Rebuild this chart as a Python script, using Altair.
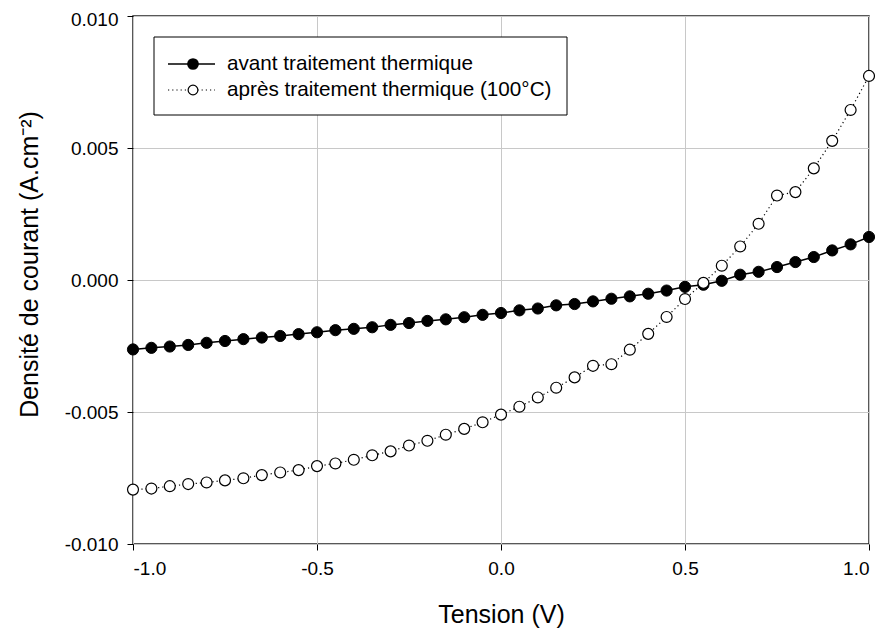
import altair as alt
import pandas as pd

# ---- data ----
tension = [-1.00, -0.95, -0.90, -0.85, -0.80, -0.75, -0.70, -0.65, -0.60, -0.55,
           -0.50, -0.45, -0.40, -0.35, -0.30, -0.25, -0.20, -0.15, -0.10, -0.05,
           0.00, 0.05, 0.10, 0.15, 0.20, 0.25, 0.30, 0.35, 0.40, 0.45,
           0.50, 0.55, 0.60, 0.65, 0.70, 0.75, 0.80, 0.85, 0.90, 0.95, 1.00]

avant = [-0.00263, -0.00257, -0.00252, -0.00246, -0.00238, -0.00231, -0.00224, -0.00218,
         -0.00212, -0.00205, -0.00198, -0.00190, -0.00185, -0.00179, -0.00170, -0.00163,
         -0.00155, -0.00149, -0.00141, -0.00132, -0.00125, -0.00115, -0.00108, -0.00096,
         -0.00091, -0.00081, -0.00071, -0.00062, -0.00052, -0.00040, -0.00026, -0.00018,
         -0.00003, 0.00020, 0.00031, 0.00049, 0.00068, 0.00087, 0.00112, 0.00135, 0.00163]

apres = [-0.00794, -0.00790, -0.00781, -0.00773, -0.00767, -0.00759, -0.00751, -0.00739,
         -0.00729, -0.00720, -0.00705, -0.00695, -0.00681, -0.00664, -0.00649, -0.00627,
         -0.00609, -0.00586, -0.00564, -0.00539, -0.00510, -0.00480, -0.00445, -0.00408,
         -0.00369, -0.00325, -0.00319, -0.00264, -0.00204, -0.00140, -0.00072, -0.00011,
         0.00054, 0.00127, 0.00213, 0.00320, 0.00333, 0.00423, 0.00527, 0.00644, 0.00773]

series_names = ["avant traitement thermique", "après traitement thermique (100°C)"]
x_ticks = [-1.0, -0.5, 0.0, 0.5, 1.0]
y_ticks = [-0.010, -0.005, 0.000, 0.005, 0.010]
x_title = "Tension (V)"
y_title = "Densité de courant (A.cm⁻²)"

FONT = "Liberation Sans"

df_av = pd.DataFrame({"V": tension, "J": avant, "serie": series_names[0]})
df_ap = pd.DataFrame({"V": tension, "J": apres, "serie": series_names[1]})

x_enc = alt.X("V:Q",
              scale=alt.Scale(domain=[-1, 1], nice=False, zero=False),
              axis=alt.Axis(values=x_ticks, title=x_title,
                            labelExpr="replace(format(datum.value, '.1f'), '\u2212', '-')",
                            titleY=78, titleBaseline="alphabetic"))
y_enc = alt.Y("J:Q",
              scale=alt.Scale(domain=[-0.01, 0.01], nice=False, zero=False),
              axis=alt.Axis(values=y_ticks, title=y_title,
                            labelExpr="replace(format(datum.value, '.3f'), '\u2212', '-')",
                            labelOffset={"condition": {"test": "datum.value > 0.009", "value": 3},
                                         "value": 0},
                            titleX=-96, titleY=248, titleBaseline="alphabetic"))

line_av = alt.Chart(df_av).mark_line(color="black", strokeWidth=1.5).encode(x=x_enc, y=y_enc)
pts_av = alt.Chart(df_av).mark_point(shape="circle", filled=True, fill="black", stroke="black",
                                     strokeWidth=1, size=125, opacity=1).encode(x=x_enc, y=y_enc)
line_ap = alt.Chart(df_ap).mark_line(color="black", strokeWidth=1.2,
                                     strokeDash=[1.2, 3]).encode(x=x_enc, y=y_enc)
pts_ap = alt.Chart(df_ap).mark_point(shape="circle", filled=True, fill="white", stroke="black",
                                     strokeWidth=1.2, size=120, opacity=1).encode(x=x_enc, y=y_enc)

# ---- legend (drawn inside the plot area) ----
leg_rows_y = [48, 74]
leg_box = alt.Chart(pd.DataFrame({"k": [0]})).mark_rect(
    fill="white", stroke="black", strokeWidth=1
).encode(x=alt.value(21), x2=alt.value(434), y=alt.value(21), y2=alt.value(99))

legend_layers = [leg_box]
for i, name in enumerate(series_names):
    d = pd.DataFrame({"label": [name]})
    if i == 0:
        rule = alt.Chart(d).mark_rule(color="black", strokeWidth=1.5)
        pt = alt.Chart(d).mark_point(shape="circle", filled=True, fill="black", stroke="black",
                                     size=95, opacity=1)
    else:
        rule = alt.Chart(d).mark_rule(color="black", strokeWidth=1.2, strokeDash=[1.2, 3])
        pt = alt.Chart(d).mark_point(shape="circle", filled=True, fill="white", stroke="black",
                                     strokeWidth=1.2, size=95, opacity=1)
    legend_layers.append(rule.encode(x=alt.value(35), x2=alt.value(82), y=alt.value(leg_rows_y[i])))
    legend_layers.append(pt.encode(x=alt.value(60), y=alt.value(leg_rows_y[i])))
    legend_layers.append(
        alt.Chart(d).mark_text(align="left", baseline="middle", font=FONT, fontSize=20.7,
                               color="black")
        .encode(x=alt.value(94), y=alt.value(leg_rows_y[i]), text="label:N")
    )

chart = alt.layer(line_av, pts_av, line_ap, pts_ap, *legend_layers).properties(
    width=736, height=528,
    autosize=alt.AutoSizeParams(type="none"),
    padding={"left": 125, "top": 8, "right": 6, "bottom": 84},
).configure_view(
    stroke="#222222", strokeWidth=1.5
).configure_axis(
    grid=True, gridColor="#c8c8c8", gridWidth=1,
    domain=False,
    ticks=True, tickColor="black", tickSize=6, tickWidth=1,
    labelFont=FONT, labelFontSize=19, labelColor="black", labelPadding=9,
    titleFont=FONT, titleFontSize=25, titleFontWeight="normal", titleColor="black",
)

chart.save("out.html", embed_options={"renderer": "svg", "actions": False})
